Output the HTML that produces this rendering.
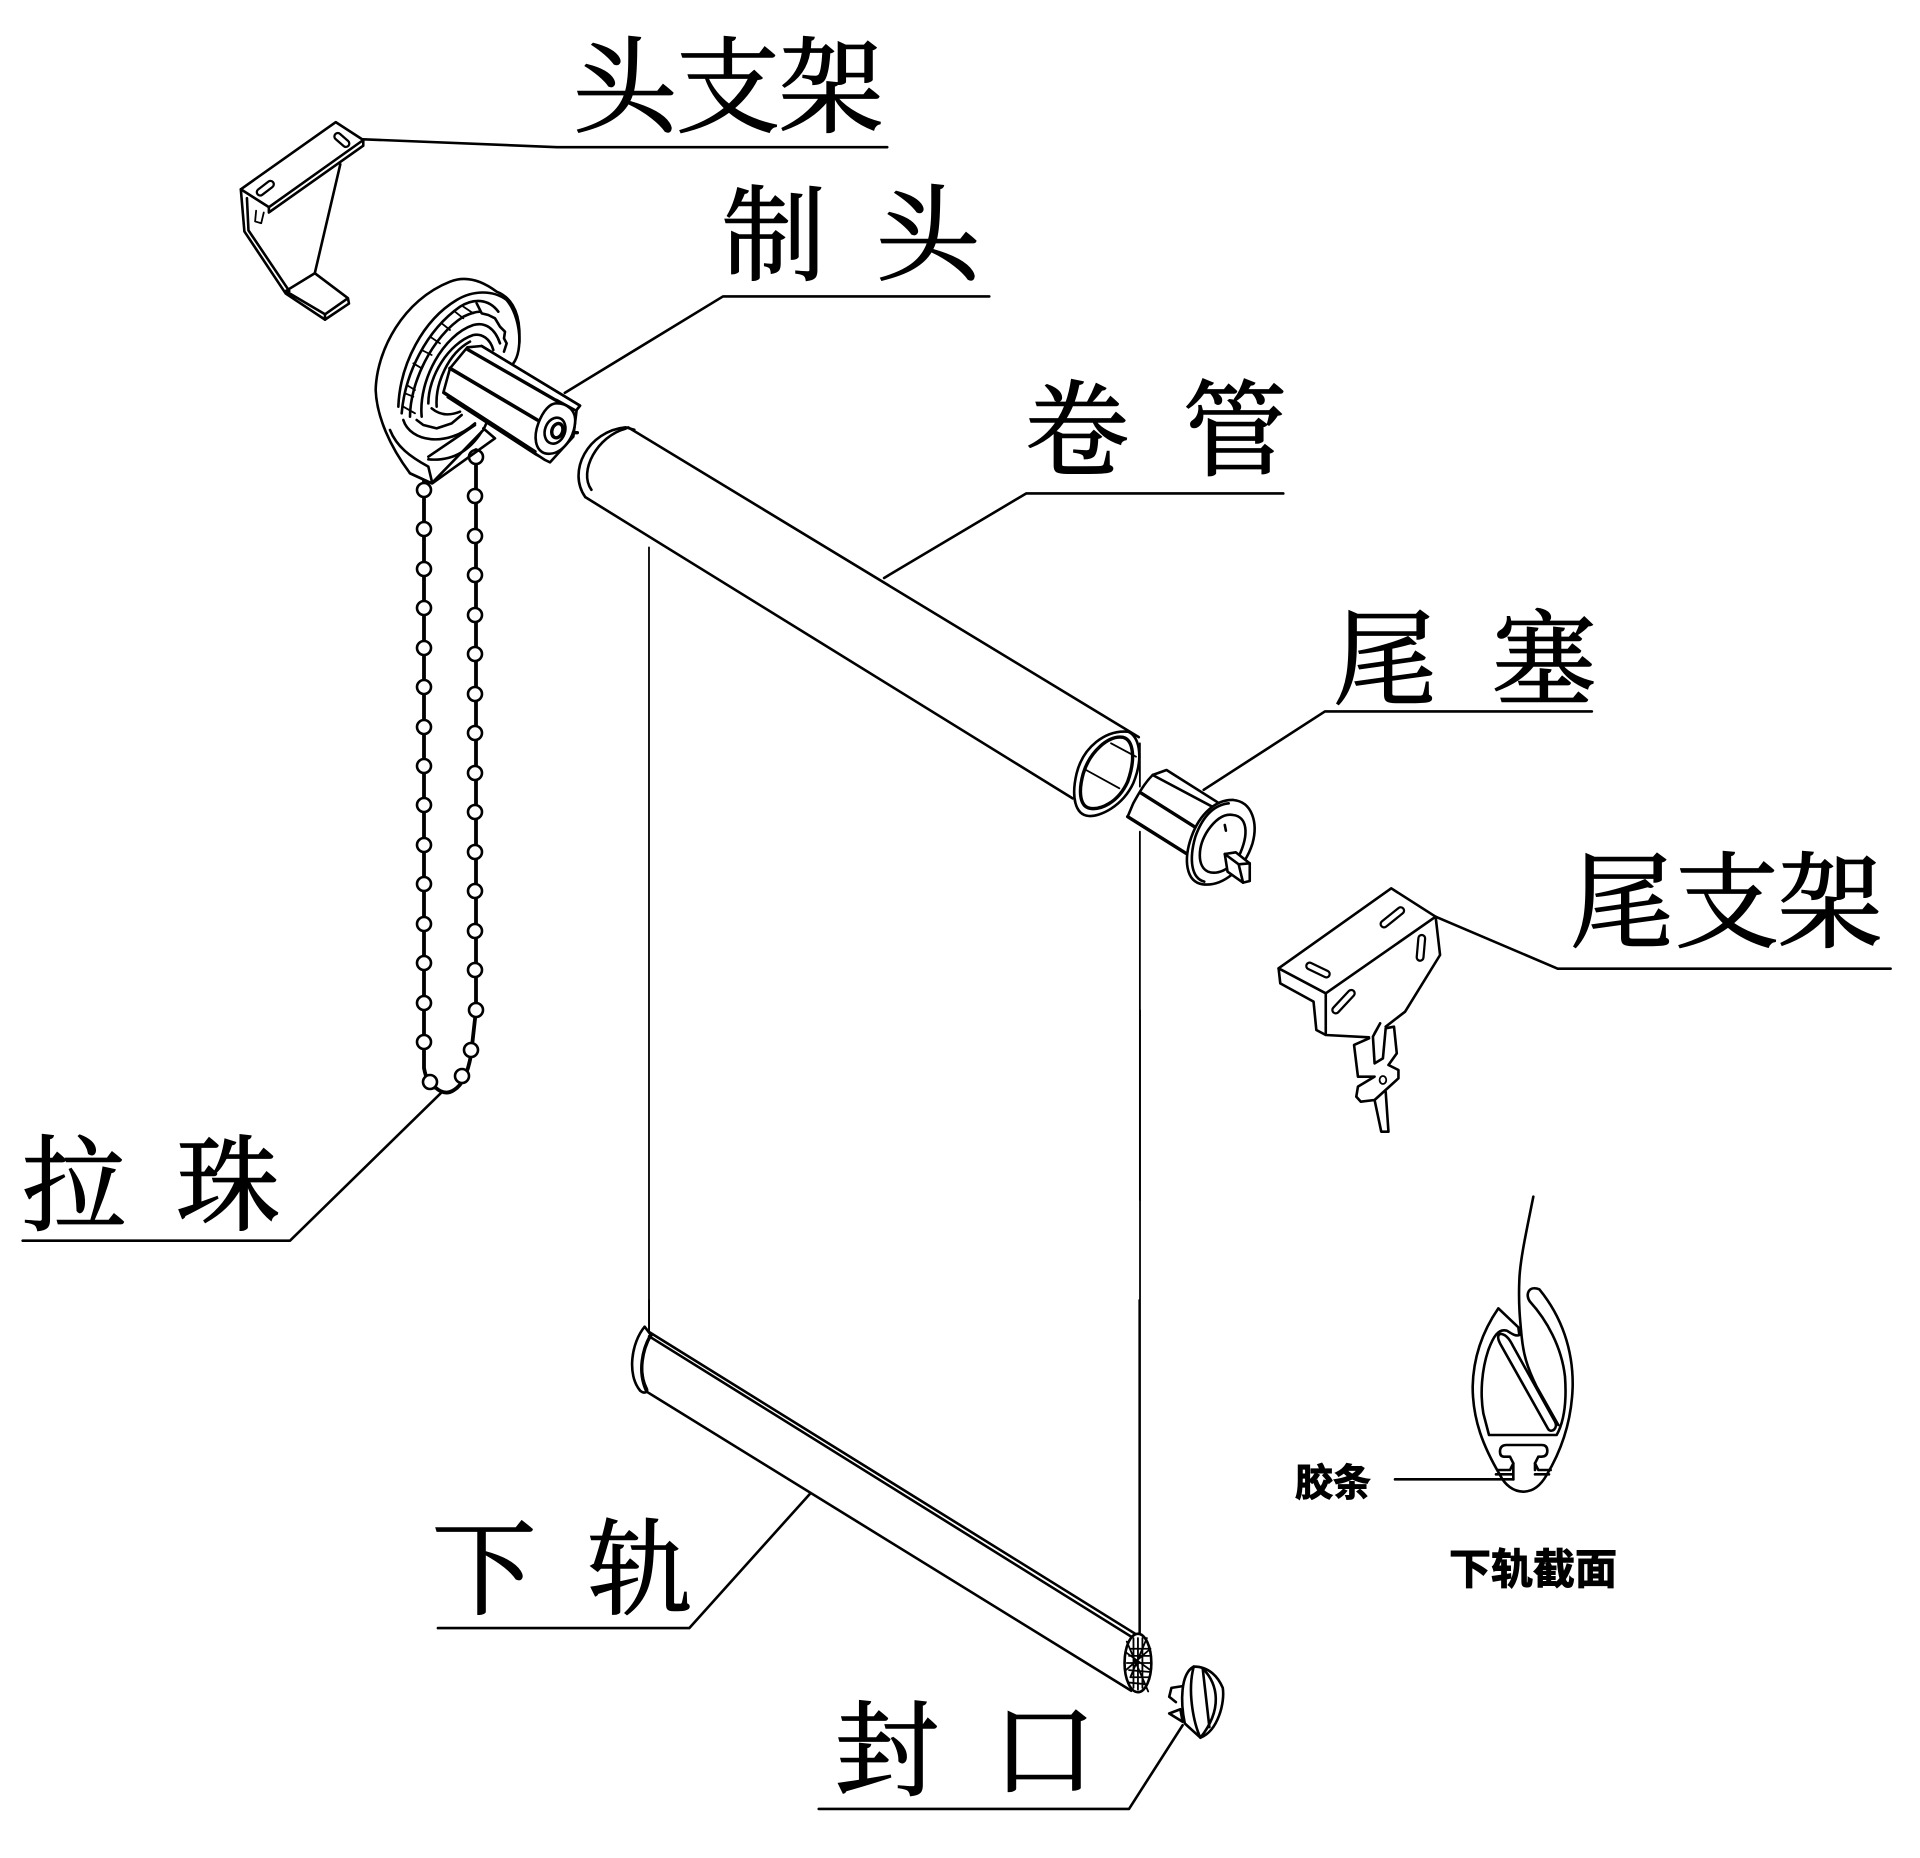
<!DOCTYPE html>
<html><head><meta charset="utf-8"><style>
html,body{margin:0;padding:0;background:#fff}
svg{display:block}
path,line,ellipse,circle,polygon{vector-effect:non-scaling-stroke;stroke-linejoin:round;stroke-linecap:round}
.l{fill:none;stroke:#000;stroke-width:2.6}
.w{fill:#fff;stroke:#000;stroke-width:2.6}
.t{fill:none;stroke:#000;stroke-width:1.8}
.k{fill:none;stroke:#000;stroke-width:3.4}
.s1{fill:none;stroke:#000;stroke-width:9}
.s2{fill:none;stroke:#fff;stroke-width:4.5}
text{font-family:"Liberation Serif","Noto Serif CJK SC",serif;fill:#000}
.big{font-size:104px;stroke:#000;stroke-width:1.6}
.sm{font-family:"Liberation Sans","Noto Sans CJK SC",sans-serif;font-weight:700;stroke:#000;stroke-width:1}
</style></head><body>
<svg width="1920" height="1858" viewBox="0 0 1920 1858" xmlns="http://www.w3.org/2000/svg">
<rect width="1920" height="1858" fill="#fff"/>

<!-- labels -->
<g class="big">
<text x="573" y="124">头</text><text x="676" y="124">支</text><text x="779" y="124">架</text>
<text x="722" y="272">制</text><text x="876" y="272">头</text>
<text x="1025" y="467">卷</text><text x="1183" y="467">管</text>
<text x="1333" y="696">尾</text><text x="1492" y="696">塞</text>
<text x="1570" y="939">尾</text><text x="1675" y="939">支</text><text x="1778" y="939">架</text>
<text x="22" y="1222">拉</text><text x="176" y="1222">珠</text>
<text x="432" y="1606">下</text><text x="588" y="1606">轨</text>
<text x="835" y="1787">封</text><text x="992" y="1787">口</text>
</g>
<text class="sm" x="1295" y="1496" font-size="38">胶条</text>
<text class="sm" x="1449" y="1584" font-size="42">下轨截面</text>

<!-- leaders / top-left -->
<g transform="translate(200,0) scale(0.5102,0.35714)">
  <path class="l" d="M320 390 L700 412 L1347 412"/>
  <path class="l" d="M715 1100 L1025 830 L1547 830"/>
  <!-- head bracket -->
  <path class="l" d="M266 342 L320 392 L135 580 L80 530 Z"/>
  <path class="l" d="M320 392 L320 408 L135 595 L135 580"/>
  <path class="l" d="M80 530 L87 648 L168 822 L245 895 L292 850 L290 835 L225 765 L168 815 L245 880 L290 835"/>
  <path class="l" d="M92 555 L95 645 L175 815"/>
  <path class="l" d="M245 880 L245 895 M225 765 L275 460"/>
  <path class="t" d="M110 590 L108 620 L120 625 L125 595"/>
  <path class="s1" d="M270 382 L286 402"/><path class="s2" d="M270 382 L286 402"/>
  <path class="s1" d="M118 538 L138 516"/><path class="s2" d="M118 538 L138 516"/>
</g>

<!-- chain -->
<g>
  <path d="M424 480 L424 1068 Q427 1085 436 1088 Q445 1096 454 1090 Q466 1083 471 1055 L476 1010 L476 450" fill="none" stroke="#000" stroke-width="3.8"/>
  <g fill="#fff" stroke="#000" stroke-width="2.6">
  <circle cx="424" cy="490" r="7"/><circle cx="424" cy="529" r="7"/><circle cx="424" cy="569" r="7"/><circle cx="424" cy="608" r="7"/><circle cx="424" cy="648" r="7"/><circle cx="424" cy="687" r="7"/><circle cx="424" cy="727" r="7"/><circle cx="424" cy="766" r="7"/><circle cx="424" cy="805" r="7"/><circle cx="424" cy="845" r="7"/><circle cx="424" cy="884" r="7"/><circle cx="424" cy="924" r="7"/><circle cx="424" cy="963" r="7"/><circle cx="424" cy="1003" r="7"/><circle cx="424" cy="1042" r="7"/>
  <circle cx="476" cy="457" r="7"/><circle cx="475" cy="496" r="7"/><circle cx="475" cy="536" r="7"/><circle cx="475" cy="575" r="7"/><circle cx="475" cy="615" r="7"/><circle cx="475" cy="654" r="7"/><circle cx="475" cy="694" r="7"/><circle cx="475" cy="733" r="7"/><circle cx="475" cy="773" r="7"/><circle cx="475" cy="812" r="7"/><circle cx="475" cy="852" r="7"/><circle cx="475" cy="891" r="7"/><circle cx="475" cy="931" r="7"/><circle cx="475" cy="970" r="7"/><circle cx="476" cy="1010" r="7"/>
  <circle cx="471" cy="1050" r="7"/><circle cx="462" cy="1076" r="7"/><circle cx="430" cy="1082" r="7"/>
  </g>
</g>

<!-- head mechanism -->
<g transform="translate(360,260) scale(0.33333)">
  <path class="w" d="M150 640 C90 560 50 470 47 390 C50 270 130 120 270 65 C320 45 370 65 410 95 C450 110 475 150 478 210 C480 260 475 290 460 310 L370 510 L215 670 Z"/>
  <path class="l" d="M115 440 C120 310 190 180 290 120 C340 90 400 90 440 120 C465 150 480 200 478 250"/>
  <path class="l" d="M125 460 C135 340 200 210 300 140 C340 115 385 115 415 155"/>
  <path class="l" d="M150 470 C150 370 215 230 310 170 C335 158 350 155 360 155"/>
  <path class="l" d="M350 130 L365 160 L385 165 L405 175 L420 200 L435 215 L432 235 L440 250 L432 275"/>
  <path class="t" d="M160 310 L185 325 M140 375 L165 390 M135 400 L160 410 M185 270 L215 285 M210 230 L240 250 M245 190 L270 210 M285 155 L310 175 M310 140 L340 160 M130 440 L165 460"/>
  <path class="l" d="M185 470 C175 360 250 225 340 195 C375 185 405 205 420 250"/>
  <path class="l" d="M205 430 C205 350 265 250 340 225 C365 220 390 235 400 270"/>
  <path class="l" d="M230 440 C225 370 265 280 330 245"/>
  <path class="l" d="M130 480 C150 545 260 565 345 490"/>
  <path class="l" d="M170 480 L190 495 L230 505 L275 490 L305 465"/>
  <path class="l" d="M215 445 C245 470 275 465 300 455"/>
  <path class="l" d="M90 510 C110 560 150 590 205 620 L217 670 L405 535 L370 505"/>
  <path class="l" d="M205 590 L345 495 M205 598 C280 605 330 570 365 515 M150 640 L215 670"/>
  <!-- shaft -->
  <path class="w" d="M322 262 L365 258 L660 437 L650 450 L640 530 L570 607 L555 600 L250 398 L270 325 Z"/>
  <path class="k" d="M322 268 L595 425"/>
  <path class="l" d="M365 258 L660 437 L648 452 L590 420"/>
  <path d="M270 325 L532 480" fill="none" stroke="#000" stroke-width="3.6"/>
  <path class="k" d="M252 398 L525 575"/>
  <path class="t" d="M262 412 L528 585 L570 607"/>
  <path class="w" d="M590 430 C620 430 650 450 645 490 C640 540 600 590 555 580 C525 570 520 530 535 490 C550 450 570 430 590 430 Z"/>
  <ellipse class="l" cx="585" cy="512" rx="30" ry="40" transform="rotate(20 585 512)"/>
  <ellipse class="k" cx="592" cy="512" rx="16" ry="22" transform="rotate(20 592 512)"/>
  <path class="k" d="M640 518 L652 518"/>
</g>

<!-- roller tube -->
<g transform="translate(0,0) scale(1.2245)">
  <path class="l" d="M513 349 L930 602"/>
  <path class="l" d="M478 406 L876 652"/>
  <path class="l" d="M478 406 C463 385 480 352 511 349 L518 351"/>
  <path class="l" d="M483 400 C472 385 488 356 511 350"/>
  <path class="l" d="M722 472 L838 403 L1048 403"/>
  <path class="l" d="M983 645 L1082 581 L1300 581"/>
  <path d="M530 447 L530 1085" class="t"/>
  <path d="M931 825 L931 1335" class="t"/>
</g>

<g transform="translate(1050,700) scale(0.55485,0.33333)">
  <path d="M162 130 L162 260 M162 395 L162 1500" class="t"/>
  <path class="l" d="M140 95 C160 105 170 170 150 250 C130 320 90 350 70 348 C45 345 38 290 48 220 C60 140 100 90 140 95 Z"/>
  <path class="k" d="M132 112 C150 120 155 175 140 245 C122 310 90 330 72 325 C55 320 50 280 60 220 C72 155 105 105 132 112 Z"/>
  <path class="t" d="M65 210 L125 265 M110 130 L155 170"/>
  <!-- tail plug -->
  <path class="w" d="M185 225 L210 210 L305 310 L330 300 L320 500 L245 460 L140 350 L150 310 C160 280 170 250 185 225 Z"/>
  <path class="l" d="M185 225 L298 325"/>
  <path class="k" d="M165 280 L262 382"/>
  <path class="k" d="M140 350 L245 460"/>
  <path class="w" d="M330 300 C365 305 375 370 365 430 C350 510 310 560 275 553 C245 545 240 480 255 410 C270 340 300 298 330 300 Z"/>
  <path class="l" d="M322 310 C295 315 275 350 262 410 C250 480 255 535 278 545"/>
  <path class="l" d="M330 345 C355 350 360 400 340 470 C325 510 300 525 285 515 C265 500 265 440 285 390 C300 355 315 340 330 345 Z"/>
  <path class="l" d="M315 375 L317 392"/>
  <path class="w" d="M315 462 L335 457 L360 490 L360 543 L348 548 L320 515 Z"/>
  <path class="l" d="M315 462 L340 493 L360 490 M340 493 L348 548"/>
  <!-- tail bracket -->
  <path class="w" d="M615 565 L695 650 L497 880 L412 805 Z"/>
  <path class="l" d="M412 805 L415 850 L475 905 L480 990 L497 1005 L575 1012 M497 880 L497 1000 M695 650 L703 765 L640 935 L605 980"/>
  <path class="s1" d="M602 672 L632 632"/><path class="s2" d="M602 672 L632 632"/>
  <path class="s1" d="M468 798 L498 822"/><path class="s2" d="M468 798 L498 822"/>
  <path class="s1" d="M670 715 L667 772"/><path class="s2" d="M670 715 L667 772"/>
  <path class="s1" d="M515 930 L543 880"/><path class="s2" d="M515 930 L543 880"/>
  <path class="w" d="M575 1015 L548 1035 L555 1130 L585 1130 L555 1160 L552 1190 L560 1205 L585 1200 L628 1135 L628 1110 L610 1095 L625 1060 L620 980 L605 985 L600 1075 L585 1090 L582 1010 L595 970 L585 1000"/>
  <path class="l" d="M585 1200 L597 1295 L610 1295 L605 1175"/>
  <ellipse class="t" cx="600" cy="1140" rx="6" ry="12"/>
  <!-- leader -->
  <path class="l" d="M695 650 L915 806 L1515 806"/>
</g>

<!-- section -->
<g transform="translate(1250,1180) scale(0.33333)">
  <path class="l" d="M850 50 C830 150 810 240 808 300 C805 370 810 420 815 470 C820 520 830 560 860 620 L925 735"/>
  <path class="l" d="M868 328 C935 410 970 510 968 620 C965 720 935 810 890 885 C870 920 845 935 820 935 C790 935 765 915 750 885 C700 800 668 720 668 620 C670 530 700 450 745 385 L805 442 L808 465 C795 470 785 460 770 452 C745 445 730 470 715 510 C695 570 690 640 700 700 L717 765 L920 765 C945 720 950 660 945 590 C935 500 890 420 840 365 C825 345 835 315 868 328 Z"/>
  <path class="l" d="M755 462 C770 465 780 480 790 500 L915 725 C925 745 905 760 895 748 L750 490 C740 470 745 460 755 462 Z"/>
  <path class="l" d="M745 870 L780 870 L790 850 L780 830 L762 830 Q750 830 750 815 Q750 795 770 795 L875 795 Q892 795 892 812 Q892 830 875 830 L865 830 L855 850 L865 870 L902 870"/>
  <path class="l" d="M738 883 L790 883 L790 870 M790 850 L790 898 M855 850 L855 870 M855 883 L897 883"/>
  <path class="l" d="M435 898 L790 898"/>
</g>

<!-- bottom rail -->
<g transform="translate(600,1300) scale(0.44643,0.35587)">
  <path class="t" d="M110 0 L110 90 M1208 0 L1208 945"/>
  <path class="l" d="M110 90 L1208 945"/>
  <path class="l" d="M110 102 L1195 950"/>
  <path class="l" d="M105 258 L1190 1098"/>
  <path class="l" d="M100 75 C70 120 60 210 90 255 C100 265 108 258 105 250 C85 200 95 130 115 100 Z"/>
  <path class="k" d="M113 100 C95 140 85 200 103 252"/>
  <ellipse class="w" cx="1205" cy="1020" rx="30" ry="82"/>
  <path class="t" d="M1178 990 L1233 1040 M1178 1040 L1233 980 M1188 1060 L1225 950 M1185 1075 L1225 1080 M1180 960 L1228 1100 M1185 1000 L1230 1000 M1180 1020 L1232 1020 M1185 1040 L1230 1045 M1205 950 L1205 1095 M1215 950 L1215 1090 M1195 950 L1195 1090 M1190 980 L1228 980 M1190 1060 L1228 1060"/>
  <path class="l" d="M470 545 L200 922 L-363 922"/>
  <path class="l" d="M1305 1195 L1185 1430 L490 1430"/>
  <!-- end cap -->
  <path class="w" d="M1330 1030 C1300 1050 1300 1130 1310 1190 L1345 1230 C1385 1210 1400 1130 1395 1090 C1385 1060 1365 1030 1330 1030 Z"/>
  <path class="l" d="M1330 1030 C1315 1100 1330 1190 1345 1230 M1350 1035 L1365 1200 M1350 1035 C1385 1080 1395 1150 1345 1230"/>
  <path class="l" d="M1305 1085 L1280 1090 L1275 1115 L1290 1130 M1300 1150 L1275 1162 L1305 1185 Z"/>
</g>

<!-- pull bead leader -->
<g transform="translate(0,1000) scale(0.33333)">
  <path class="l" d="M1322 280 L870 722 L68 722"/>
</g>
</svg>
</body></html>
